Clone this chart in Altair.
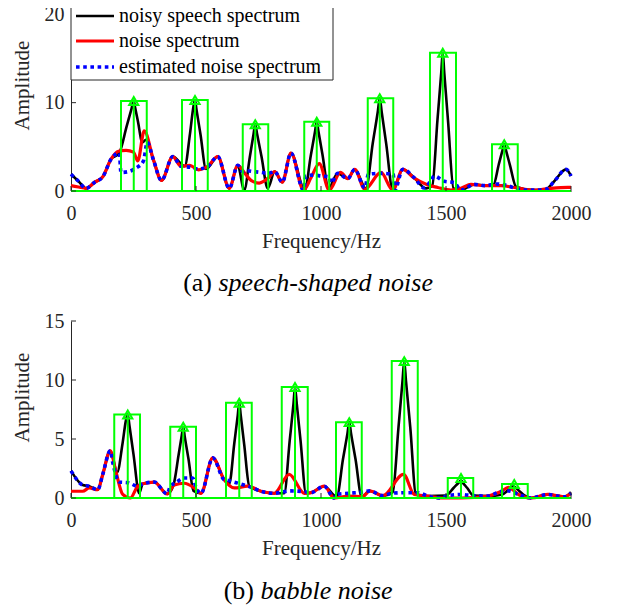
import altair as alt
import pandas as pd

FONT = "Liberation Serif"
AXC = "#262626"

legend_labels = ["noisy speech spectrum", "noise spectrum", "estimated noise spectrum"]
x_ticks = [0, 500, 1000, 1500, 2000]
a_y_ticks = [0, 10, 20]
b_y_ticks = [0, 5, 10, 15]

# ---------------- (a) speech-shaped noise ----------------
a_noisy_f = [0, 30, 60, 95, 127, 160, 193, 222, 242, 251, 256, 268, 285, 300, 330, 362, 407, 455, 476, 490,
             496, 502, 518, 540, 587, 633, 667, 693, 715, 730, 737, 744, 762, 787, 815, 845, 880, 935, 959, 976,
             983, 990, 1006, 1030, 1067, 1107, 1135, 1180, 1207, 1227, 1235, 1243, 1261, 1287, 1327, 1373, 1420, 1445, 1466, 1481,
             1487, 1493, 1508, 1530, 1560, 1613, 1660, 1690, 1711, 1726, 1733, 1740, 1756, 1780, 1850, 1900, 1933, 1980, 2000]
a_noisy_amp = [1.9, 1.1, 0.3, 1.0, 1.6, 3.6, 4.3, 7.25, 9.3, 10.2, 9.5, 7.85, 5.5, 5.8, 3.5, 1.2, 3.9, 2.8, 6.5, 9.6,
               10.3, 9.2, 6.4, 2.5, 3.9, 0.3, 2.9, 0.1, 3.8, 6.4, 7.55, 6.5, 3.9, 0.3, 2.2, 1.0, 4.3, 0.1, 4.0, 6.7,
               7.85, 6.7, 4.1, 0.3, 2.0, 1.4, 2.45, 0.3, 5.4, 8.95, 10.5, 8.9, 5.3, 0.1, 2.45, 1.5, 0.3, 0.6, 8.1, 13.4,
               15.66, 13.4, 8.0, 0.3, 0.1, 0.75, 0.6, 0.7, 3.0, 4.6, 5.3, 4.6, 2.9, 0.5, 0.1, 0.2, 1.1, 2.45, 1.7]

a_noise_f = [0, 30, 60, 95, 127, 160, 190, 220, 250, 267, 293, 330, 362, 407, 440, 475, 510, 547, 587, 633,
             667, 693, 720, 753, 790, 815, 845, 880, 930, 960, 993, 1033, 1078, 1107, 1135, 1175, 1240, 1287, 1327, 1373,
             1425, 1467, 1520, 1560, 1600, 1653, 1720, 1773, 1853, 1920, 1987, 2000]
a_noise_amp = [0.6, 0.45, 0.3, 1.0, 1.6, 3.6, 4.5, 4.6, 4.4, 3.4, 6.8, 3.5, 1.2, 3.9, 2.8, 2.9, 2.4, 2.8, 3.9, 0.3,
               2.9, 2.1, 1.2, 0.9, 1.5, 2.2, 1.0, 4.3, 0.1, 1.5, 3.1, 0.1, 2.1, 1.4, 2.45, 0.2, 2.1, 0.1, 2.45, 1.45,
               0.7, 0.4, 0.1, 0.3, 0.75, 0.6, 0.6, 0.4, 0.1, 0.3, 0.4, 0.4]

a_est_f = [0, 30, 60, 95, 127, 160, 193, 200, 230, 260, 290, 305, 330, 362, 407, 440, 475, 510, 547, 587,
           633, 667, 687, 700, 730, 760, 789, 815, 845, 880, 930, 940, 970, 1000, 1033, 1040, 1067, 1107, 1135, 1175,
           1190, 1240, 1289, 1295, 1327, 1373, 1413, 1440, 1453, 1493, 1533, 1560, 1613, 1660, 1700, 1747, 1790, 1850, 1900, 1933,
           1980, 2000]
a_est_amp = [1.9, 1.1, 0.3, 1.0, 1.6, 3.6, 4.3, 2.1, 2.2, 2.6, 3.4, 5.5, 3.5, 1.2, 3.9, 2.8, 2.7, 2.5, 2.8, 3.9,
             0.3, 2.9, 2.2, 2.3, 2.2, 2.1, 2.0, 2.2, 1.0, 4.3, 0.1, 1.7, 1.8, 1.7, 1.6, 0.9, 2.0, 1.4, 2.45, 0.35,
             1.9, 2.0, 1.9, 0.1, 2.45, 1.5, 0.35, 1.2, 1.7, 1.1, 0.95, 0.1, 0.75, 0.6, 0.8, 0.6, 0.2, 0.1, 0.2, 1.1,
             2.45, 1.7]

a_box_lo = [200, 444, 687, 933, 1187, 1436, 1684]
a_box_hi = [303, 547, 789, 1033, 1289, 1540, 1787]
a_peak_f = [251, 496, 737, 983, 1235, 1487, 1733]
a_peak_amp = [10.2, 10.3, 7.55, 7.85, 10.5, 15.66, 5.3]

# ---------------- (b) babble noise ----------------
b_noisy_f = [0, 47, 73, 107, 127, 157, 185, 206, 220, 227, 234, 250, 273, 287, 333, 385, 410, 430, 443, 449,
             455, 470, 490, 520, 567, 613, 633, 653, 667, 673, 679, 693, 713, 760, 813, 853, 875, 890, 896, 903,
             918, 940, 960, 1013, 1063, 1088, 1106, 1113, 1120, 1138, 1163, 1195, 1247, 1287, 1310, 1326, 1333, 1340, 1357, 1380,
             1427, 1500, 1530, 1551, 1560, 1567, 1585, 1610, 1667, 1725, 1748, 1763, 1770, 1777, 1793, 1815, 1840, 1907, 1973, 2000]
b_noisy_amp = [2.3, 1.1, 1.0, 0.7, 2.0, 4.0, 2.2, 4.6, 6.6, 7.08, 6.1, 3.7, 0.4, 1.2, 1.35, 0.35, 1.1, 3.6, 5.3, 6.03,
               5.2, 3.3, 0.6, 0.4, 3.4, 1.55, 1.2, 4.6, 7.0, 8.07, 7.0, 4.5, 1.0, 0.57, 0.4, 0.4, 4.9, 8.0, 9.4, 8.0,
               4.9, 0.4, 0.45, 1.0, 0.1, 3.3, 5.5, 6.43, 5.5, 3.3, 0.1, 0.6, 0.2, 0.5, 6.0, 9.9, 11.6, 9.9, 6.0, 0.3,
               0.17, 0.2, 0.85, 1.3, 1.5, 1.3, 0.85, 0.2, 0.17, 0.3, 0.65, 0.9, 1.0, 0.9, 0.6, 0.2, 0.0, 0.3, 0.1, 0.5]

b_noise_f = [0, 47, 73, 107, 127, 157, 180, 207, 237, 267, 287, 333, 385, 413, 453, 493, 520, 567, 613, 653,
             707, 760, 813, 873, 933, 960, 1013, 1053, 1110, 1165, 1195, 1247, 1330, 1373, 1427, 1480, 1560, 1667, 1720, 1750,
             1790, 1840, 1907, 1973, 2000]
b_noise_amp = [0.57, 0.57, 0.85, 0.7, 2.0, 4.0, 2.2, 0.3, 0.0, 1.0, 1.2, 1.35, 0.35, 1.1, 1.25, 0.85, 0.4, 3.4, 1.55, 0.85,
               1.0, 0.57, 0.4, 2.0, 0.4, 0.45, 1.0, 0.0, 0.17, 0.1, 0.6, 0.2, 2.0, 0.3, 0.17, 0.0, 0.0, 0.17, 0.55, 0.9,
               0.3, 0.0, 0.3, 0.1, 0.4]

b_est_f = [0, 47, 73, 107, 127, 157, 167, 193, 227, 267, 287, 333, 385, 397, 420, 453, 487, 500, 520, 567,
           613, 625, 653, 707, 723, 760, 813, 843, 873, 947, 960, 1013, 1053, 1060, 1110, 1163, 1195, 1247, 1283, 1330,
           1387, 1427, 1480, 1507, 1560, 1609, 1667, 1720, 1750, 1790, 1840, 1907, 1973, 2000]
b_est_amp = [2.3, 1.1, 1.0, 0.7, 2.0, 4.0, 3.0, 1.35, 1.3, 1.0, 1.2, 1.35, 0.35, 1.0, 1.3, 1.7, 1.7, 0.9, 0.4, 3.4,
             1.55, 1.5, 1.35, 1.0, 0.9, 0.57, 0.4, 0.5, 0.6, 0.5, 0.45, 1.0, 0.0, 0.3, 0.4, 0.5, 0.6, 0.2, 0.4, 0.45,
             0.45, 0.17, 0.0, 0.2, 0.3, 0.2, 0.17, 0.55, 0.6, 0.3, 0.0, 0.3, 0.1, 0.4]

b_box_lo = [173, 397, 620, 843, 1060, 1283, 1507, 1724]
b_box_hi = [276, 500, 723, 947, 1163, 1387, 1609, 1827]
b_peak_f = [227, 449, 673, 896, 1113, 1333, 1560, 1773]
b_peak_amp = [7.08, 6.03, 8.07, 9.4, 6.43, 11.6, 1.7, 1.19]


def X(field):
    return alt.X(f"{field}:Q",
                 scale=alt.Scale(domain=[0, 2000], nice=False, zero=False),
                 axis=alt.Axis(values=x_ticks, format="d", title="Frequency/Hz", grid=False, ticks=False,
                               tickSize=0, labelPadding=12, labelFlush=False, titleY=50, titleBaseline="middle"))


def Y(field, ymax, yticks, title_y):
    return alt.Y(f"{field}:Q",
                 scale=alt.Scale(domain=[0, ymax], nice=False, zero=False),
                 axis=alt.Axis(values=yticks, format="d", title="Amplitude", grid=False, ticks=False, tickSize=0,
                               labelPadding=7, titleX=-49, titleY=title_y, titleBaseline="middle"))


def panel(nf, na, rf, ra, ef, ea, lo, hi, pf, pa, ymax, yticks, H, title_y, tag, cap, cap_y, split_x, legend):
    noisy = pd.DataFrame({"f": nf, "amp": na})
    noise = pd.DataFrame({"f": rf, "amp": ra})
    est = pd.DataFrame({"f": ef, "amp": ea})
    boxes = pd.DataFrame({"lo": lo, "hi": hi, "f": pf, "amp": pa, "zero": [0] * len(lo)})
    base = pd.DataFrame({"f": [0], "f2": [2000], "amp": [0]})

    xe = X("f")
    ye = Y("amp", ymax, yticks, title_y)

    layers = [
        alt.Chart(noisy).mark_line(color="#000000", strokeWidth=2.6, interpolate="monotone").encode(x=xe, y=ye),
        alt.Chart(noise).mark_line(color="#FF0000", strokeWidth=3.2, interpolate="monotone").encode(x=xe, y=ye),
        alt.Chart(est).mark_line(color="#0000FF", strokeWidth=3.6, strokeDash=[3.6, 3.6],
                                 interpolate="monotone").encode(x=xe, y=ye),
        alt.Chart(base).mark_rule(color="#00FF00", strokeWidth=2).encode(x=xe, x2="f2", y=ye),
        alt.Chart(boxes).mark_rect(fillOpacity=0, stroke="#00FF00", strokeWidth=2).encode(
            x=X("lo"), x2="hi", y=ye, y2="zero"),
        alt.Chart(boxes).mark_rule(color="#00FF00", strokeWidth=2).encode(x=xe, y=ye, y2="zero"),
        alt.Chart(boxes).mark_point(shape="triangle-up", filled=False, color="#00FF00", size=85,
                                    strokeWidth=2, opacity=1).encode(x=xe, y=ye),
        alt.Chart(pd.DataFrame({"amp": yticks})).mark_rule(color=AXC, strokeWidth=1).encode(
            y=ye, x=alt.value(0), x2=alt.value(5)),
        alt.Chart(pd.DataFrame({"f": x_ticks})).mark_rule(color=AXC, strokeWidth=1).encode(
            x=xe, y=alt.value(H), y2=alt.value(H - 5)),
    ]

    if legend:
        colors = ["#000000", "#FF0000", "#0000FF"]
        widths = [2.6, 3.2, 3.6]
        rows = [37, 62, 88]
        layers.append(alt.Chart(pd.DataFrame({"k": [0]})).mark_rect(fill="white", stroke=AXC, strokeWidth=1).encode(
            x=alt.value(0), x2=alt.value(262), y=alt.value(8), y2=alt.value(101)))
        for i, lab in enumerate(legend_labels):
            d = pd.DataFrame({"label": [lab]})
            kw = dict(color=colors[i], strokeWidth=widths[i])
            if i == 2:
                kw["strokeDash"] = [3.6, 3.6]
            layers.append(alt.Chart(d).mark_rule(**kw).encode(
                x=alt.value(5), x2=alt.value(43), y=alt.value(rows[i])))
            layers.append(alt.Chart(d).mark_text(font=FONT, fontSize=20, align="left", baseline="middle",
                                                 color="#000000").encode(
                text="label:N", x=alt.value(48), y=alt.value(rows[i])))

    cd = pd.DataFrame({"tag": [tag], "cap": [cap]})
    layers.append(alt.Chart(cd).mark_text(font=FONT, fontSize=26, align="right", baseline="middle",
                                          color="#000000").encode(
        text="tag:N", x=alt.value(split_x), y=alt.value(cap_y)))
    layers.append(alt.Chart(cd).mark_text(font=FONT, fontSize=26, fontStyle="italic", align="left",
                                          baseline="middle", color="#000000").encode(
        text="cap:N", x=alt.value(split_x + 6.5), y=alt.value(cap_y)))

    return alt.layer(*layers).properties(width=500, height=H)


top = panel(a_noisy_f, a_noisy_amp, a_noise_f, a_noise_amp, a_est_f, a_est_amp,
            a_box_lo, a_box_hi, a_peak_f, a_peak_amp, 24, a_y_ticks, 212, 106,
            "(a)", "speech-shaped noise", 304, 141, True)
bottom = panel(b_noisy_f, b_noisy_amp, b_noise_f, b_noise_amp, b_est_f, b_est_amp,
               b_box_lo, b_box_hi, b_peak_f, b_peak_amp, 15, b_y_ticks, 177, 76,
               "(b)", "babble noise", 270, 183, False)

chart = alt.vconcat(top, bottom, spacing=15).properties(
    padding={"left": 3, "top": -29, "right": 5, "bottom": 5}
).configure_view(strokeWidth=0).configure_axis(
    labelFont=FONT, labelFontSize=20, labelColor=AXC,
    titleFont=FONT, titleFontSize=21, titleFontWeight="normal", titleColor=AXC,
    domainColor=AXC, domainWidth=1, grid=False
)

chart.save("out.html", embed_options={"renderer": "svg", "actions": False})
